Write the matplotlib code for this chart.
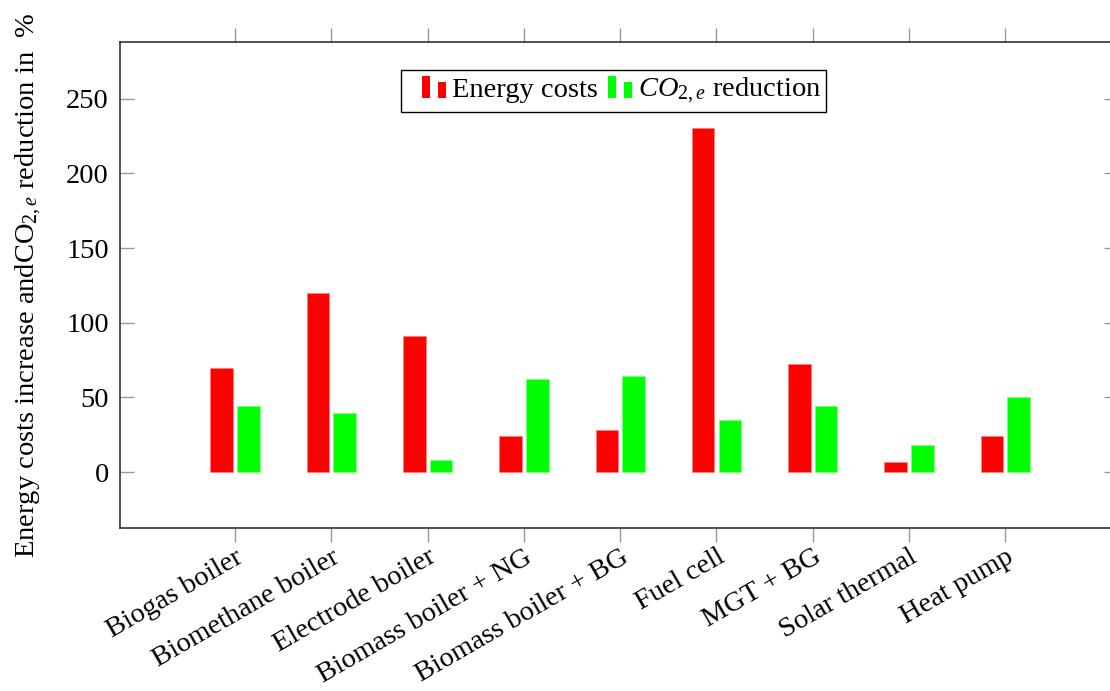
import matplotlib
matplotlib.use("Agg")
import matplotlib.pyplot as plt
import numpy as np
from matplotlib.patches import Rectangle
from matplotlib.legend_handler import HandlerBase

# values (%)
categories = ["Biogas boiler", "Biomethane boiler", "Electrode boiler",
              "Biomass boiler + NG", "Biomass boiler + BG", "Fuel cell",
              "MGT + BG", "Solar thermal", "Heat pump"]
energy_costs = [69.4, 120.1, 91.1, 24.1, 28.1, 230.6, 72.3, 6.9, 23.9]
co2_reduction = [44.2, 39.7, 8.0, 62.5, 64.3, 34.8, 44.2, 17.9, 50.2]
yticks = [0, 50, 100, 150, 200, 250]

plt.rcParams['font.family'] = ['Liberation Serif', 'DejaVu Serif']
plt.rcParams['mathtext.fontset'] = 'custom'
plt.rcParams['mathtext.rm'] = 'Liberation Serif'
plt.rcParams['mathtext.it'] = 'Liberation Serif:italic'
FS = 20.5


class TwoBars(HandlerBase):
    # pgfplots-style ybar legend image: two small bars at the right of the handle box
    def create_artists(self, legend, orig, xd, yd, w, h, fs, trans):
        c = orig.patches[0].get_facecolor()
        x0 = -xd + 0.4 * w
        bw = 0.2 * w
        r1 = Rectangle((x0, -yd - 0.05 * h), bw, 1.1 * h, fc=c, ec='none', transform=trans)
        r2 = Rectangle((x0 + 0.4 * w, -yd - 0.05 * h), bw, 0.8 * h, fc=c, ec='none', transform=trans)
        return [r1, r2]


fig = plt.figure(figsize=(11.1, 6.91), dpi=100)
ax = fig.add_axes([120 / 1110, 1 - 528 / 691, 998 / 1110, 486 / 691])

x = np.arange(len(categories))
w = 0.234
b1 = ax.bar(x - 0.139, energy_costs, w, color='#ff0000', edgecolor='#ff8080', linewidth=0.6,
            label='Energy costs')
b2 = ax.bar(x + 0.139, co2_reduction, w, color='#00ff00', edgecolor='#80ff80', linewidth=0.6,
            label='$CO_{2,e}$ reduction')

ax.set_xlim(-1.195, 9.17)
ax.set_ylim(-37.5, 288)
ax.set_yticks(yticks)
ax.set_xticks(x)
ax.set_xticklabels(categories, rotation=30, ha='right', va='top', rotation_mode='anchor', fontsize=FS)
ax.tick_params(axis='y', direction='in', left=True, right=True, length=10, width=1,
               color='#999999', labelsize=FS, pad=8)
ax.tick_params(axis='x', direction='out', top=True, bottom=True, length=10, width=1,
               color='#999999', pad=2)
for s in ax.spines.values():
    s.set_linewidth(1.1)
    s.set_color('#222222')

ax.set_ylabel(r'Energy costs increase and$\mathrm{CO}_{2,e}$ reduction in  %', fontsize=FS)
ax.yaxis.set_label_coords(-0.076, 0.5)

tb = TwoBars()
leg = ax.legend(handles=[b1, b2], loc='upper center', bbox_to_anchor=(0.4945, 0.9424),
                ncol=2, fontsize=FS, frameon=True, fancybox=False, framealpha=1,
                edgecolor='black', borderaxespad=0, borderpad=0.2, handlelength=1.4,
                handletextpad=0.2, columnspacing=-0.2,
                handler_map={b1: tb, b2: tb})
leg.get_frame().set_linewidth(1.0)

fig.savefig('out.png', dpi=100)
